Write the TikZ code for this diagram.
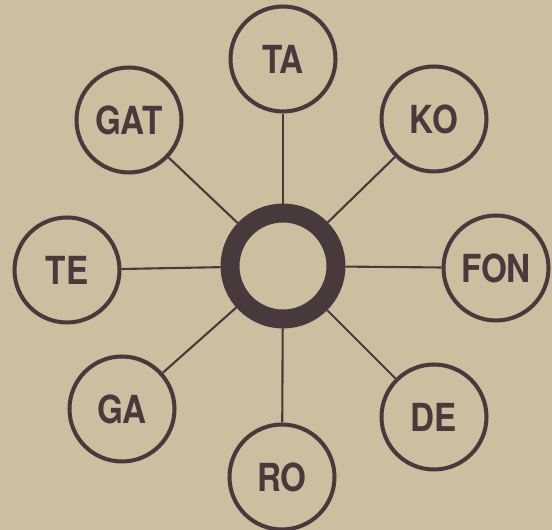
\documentclass[tikz,border=0pt]{standalone}
\usepackage{fontspec}
\newfontfamily\ringfont{TeX Gyre Heros}[FakeStretch=0.86]
\usepackage{tikz}
\usetikzlibrary{positioning}

\definecolor{paper}{RGB}{204,191,160}
\definecolor{ink}{RGB}{72,58,60}

\begin{document}
\begin{tikzpicture}[
  x=0.02cm,y=-0.02cm,
  hub/.style={circle,draw=ink,line width=10.8pt,minimum size=2.12cm,
              inner sep=0pt},
  syllable/.style={circle,draw=ink,line width=2.3pt,minimum size=2.1cm,
                   inner sep=0pt,text=ink,
                   font=\ringfont\bfseries\fontsize{22}{26}\selectfont},
  spoke/.style={draw=ink,line width=1.2pt}
]
\fill[paper] (0,0) rectangle (552,530);
\useasboundingbox (0,0) rectangle (552,530);

% spokes first, then circles on top
\node[hub] (hub) at (283,266) {};
\foreach \n/\x/\y/\t in {ta/283/59/TA,ko/434/119/KO,fon/496/268/FON,
    de/434/417/DE,ro/282/477/RO,ga/122/409/GA,te/67/270/TE,gat/129/120/GAT}
  \node[syllable] (\n) at (\x,\y) {\t};
\foreach \n in {ta,ko,fon,de,ro,ga,te,gat}
  \draw[spoke] (hub)--(\n);
\end{tikzpicture}
\end{document}
